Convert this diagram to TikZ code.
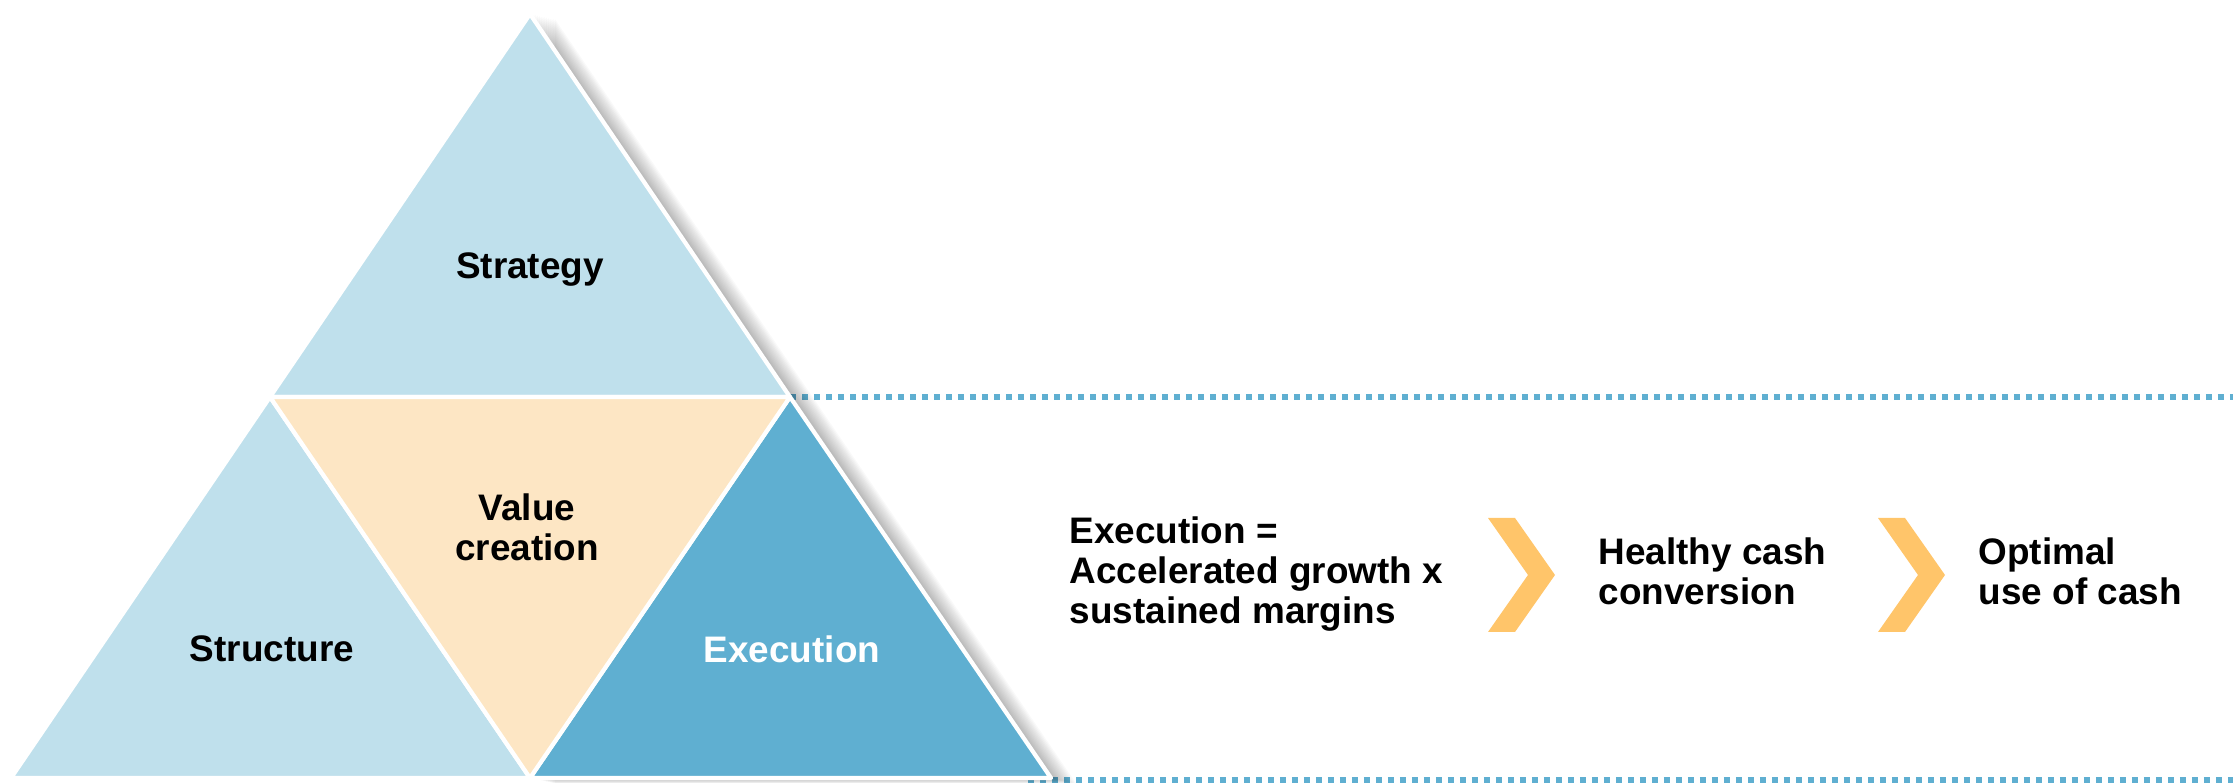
\documentclass[tikz,border=0pt]{standalone}
\usepackage{fontspec}
\setmainfont{Liberation Sans}
\definecolor{paleblue}{HTML}{BFE0EC}
\definecolor{deepblue}{HTML}{5FAFD1}
\definecolor{peach}{HTML}{FDE6C4}
\definecolor{amber}{HTML}{FFC56A}
\begin{document}
\begin{tikzpicture}
	\tikzstyle{label}=[font=\bfseries\fontsize{10.5}{11.4}\selectfont,align=center,inner sep=0pt]
	\tikzstyle{piece}=[draw=white,line width=1.2pt,line join=round]
	\tikzstyle{dotline}=[draw=deepblue,line width=0.06cm,dash pattern=on 0.06cm off 0.06cm]
	\useasboundingbox (0,0) rectangle (22.33,7.83);
	\coordinate (v_1) at (5.30,7.69);
	\coordinate (v_2) at (2.70,3.86);
	\coordinate (v_3) at (7.90,3.86);
	\coordinate (v_4) at (0.11,0.05);
	\coordinate (v_5) at (5.30,0.05);
	\coordinate (v_6) at (10.51,0.05);
	\coordinate (e_1) at (22.33,3.86);
	\coordinate (e_2) at (10.28,0.03);
	\coordinate (e_3) at (22.33,0.03);
	\draw[dotline] (v_3) -- (e_1);
	\draw[dotline] (e_2) -- (e_3);
	% soft shadow on the right side
	\foreach \s in {1,...,14}
		\fill[black,opacity=0.024,shift={(\s*0.018,-\s*0.004)}] (5.30,7.69) -- (10.51,0.05) -- (5.30,0.05) -- cycle;
	\filldraw[piece,fill=paleblue] (v_1) -- (v_2) -- (v_3) -- cycle;
	\filldraw[piece,fill=paleblue] (v_2) -- (v_4) -- (v_5) -- cycle;
	\filldraw[piece,fill=deepblue] (v_3) -- (v_5) -- (v_6) -- cycle;
	\filldraw[piece,fill=peach] (v_2) -- (v_3) -- (v_5) -- cycle;
	\node[label] (n_strategy) at (5.30,5.13) {Strategy};
	\node[label] (n_value) at (5.27,2.56) {Value\\creation};
	\node[label] (n_structure) at (2.72,1.34) {Structure};
	\node[label,text=white] (n_execution) at (7.92,1.34) {Execution};
	\node[label,align=left,anchor=west] (n_formula) at (10.69,2.09) {Execution =\\Accelerated growth x\\sustained margins};
	\node[label,align=left,anchor=west] (n_cash) at (15.98,2.12) {Healthy cash\\conversion};
	\node[label,align=left,anchor=west] (n_use) at (19.78,2.12) {Optimal\\use of cash};
	% chevrons between the steps
	\foreach \x in {14.88,18.78}
		\fill[amber] (\x,2.65) -- (\x+0.27,2.65) -- (\x+0.67,2.08) -- (\x+0.27,1.51) -- (\x,1.51) -- (\x+0.40,2.08) -- cycle;
\end{tikzpicture}
\end{document}
